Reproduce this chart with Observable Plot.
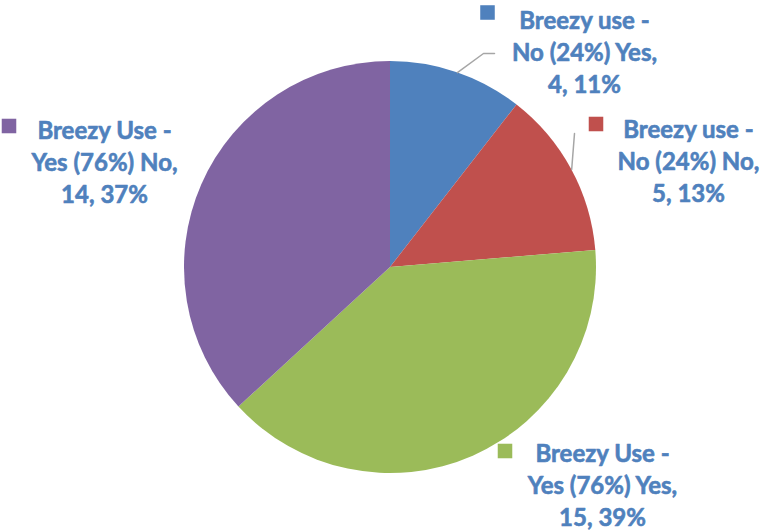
<!DOCTYPE html>
<html>
<head>
<meta charset="utf-8">
<script src="https://cdn.jsdelivr.net/npm/d3@7"></script>
<script src="https://cdn.jsdelivr.net/npm/@observablehq/plot@0.6"></script>
<style>
  html, body { margin: 0; padding: 0; background: #ffffff; }
  #chart { width: 769px; height: 531px; }
</style>
</head>
<body>
<div id="chart"></div>
<script>
// ---- data ----
const categories = [
  "Breezy use - No (24%) Yes",
  "Breezy use - No (24%) No",
  "Breezy Use - Yes (76%) Yes",
  "Breezy Use - Yes (76%) No"
];
const values = [4, 5, 15, 14];
const colors = ["#4F81BD", "#C0504D", "#9BBB59", "#8064A2"];

// ---- layout (pixel offsets from pie centre, y up) ----
const W = 769, H = 531, CX = 390, CY = 267, R = 206;
const px = (x) => x - CX;            // pixel -> data x
const py = (y) => CY - y;            // pixel -> data y
const labelPos = [[584, 50], [688, 159], [602, 483], [104, 160]];
const squarePos = [[487, 12], [595.5, 123.5], [504.5, 450.5], [8.5, 125.5]];
const leaderElbows = [[[483, 53], [494, 53]], [[574, 133]], [], []];

const total = d3.sum(values);
const rows = categories.map((c, i) => ({category: c, value: values[i], pct: Math.round(values[i] / total * 100)}));
const arcs = d3.pie().sort(null).value(d => d.value)(rows);

const labels = rows.map((d, i) => ({
  category: d.category,
  text: d.category.replace(" - ", " -\n") + ",\n" + d.value + ", " + d.pct + "%",
  x: px(labelPos[i][0]), y: py(labelPos[i][1])
}));
const squares = rows.map((d, i) => ({category: d.category, x: px(squarePos[i][0]), y: py(squarePos[i][1])}));
const leaders = [];
arcs.forEach((a, i) => {
  if (!leaderElbows[i].length) return;
  const m = (a.startAngle + a.endAngle) / 2;
  leaders.push({k: i, x: R * Math.sin(m), y: R * Math.cos(m)});
  leaderElbows[i].forEach(p => leaders.push({k: i, x: px(p[0]), y: py(p[1])}));
});

const pieMark = Plot.dot([0], {
  x: () => 0, y: () => 0,
  render: (index, scales) => {
    const cx = scales.x(0), cy = scales.y(0);
    const r = scales.x(R) - scales.x(0);
    const arc = d3.arc().innerRadius(0).outerRadius(r);
    const g = d3.create("svg:g").attr("transform", `translate(${cx},${cy})`);
    g.selectAll("path").data(arcs).join("path")
      .attr("d", arc)
      .attr("fill", d => scales.color(d.data.category));
    return g.node();
  }
});

const chart = Plot.plot({
  width: W, height: H,
  margin: 0,
  style: {background: "#ffffff", overflow: "visible"},
  x: {domain: [-CX, W - CX], axis: null},
  y: {domain: [CY - H, CY], axis: null},
  color: {domain: categories, range: colors},
  marks: [
    pieMark,
    Plot.line(leaders, {x: "x", y: "y", z: "k", stroke: "#A6A6A6", strokeWidth: 1.5}),
    Plot.dot(squares, {x: "x", y: "y", fill: "category", symbol: "square", r: 8.2, stroke: null}),
    Plot.text(labels, {
      x: "x", y: "y", text: "text",
      fill: "#4F81BD", stroke: "#4F81BD", strokeWidth: 0.6,
      fontWeight: "bold", fontSize: 24,
      fontFamily: "Lato, 'Open Sans', sans-serif",
      lineHeight: 32 / 24, textAnchor: "middle"
    })
  ]
});
document.getElementById("chart").appendChild(chart);
</script>
</body>
</html>
